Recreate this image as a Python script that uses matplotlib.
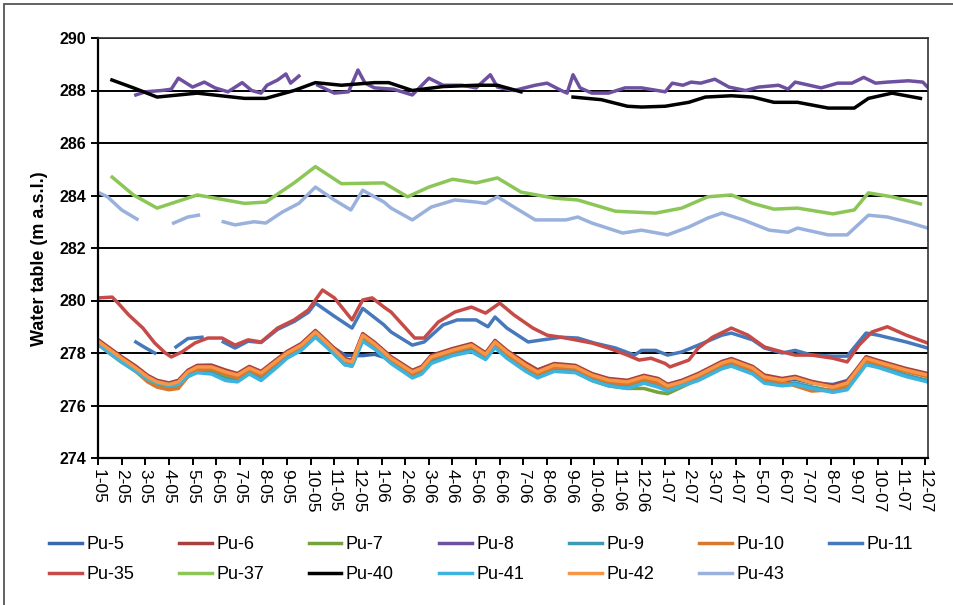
import numpy as np
import matplotlib
matplotlib.use('Agg')
import matplotlib.pyplot as plt
from matplotlib.patches import Rectangle

plt.rcParams['font.family'] = ['Liberation Sans', 'DejaVu Sans']
nan = np.nan

MONTH_LABELS = ['1-05', '2-05', '3-05', '4-05', '5-05', '6-05', '7-05', '8-05', '9-05', '10-05', '11-05', '12-05',
                '1-06', '2-06', '3-06', '4-06', '5-06', '6-06', '7-06', '8-06', '9-06', '10-06', '11-06', '12-06',
                '1-07', '2-07', '3-07', '4-07', '5-07', '6-07', '7-07', '8-07', '9-07', '10-07', '11-07', '12-07']

# ---- lower group (shared month positions) ----
LOW_X = [0.05, 0.4, 1.0, 1.6, 2.1, 2.5, 3.0, 3.4, 3.8, 4.2, 4.8, 5.4, 5.9, 6.4, 6.9, 7.5, 8.0, 8.6, 9.2, 9.7,
         10.45, 10.75, 11.2, 11.7, 12.4, 13.3, 13.7, 14.1, 15.0, 15.8, 16.4, 16.8, 17.3, 18.1, 18.6, 19.3, 20.2,
         20.9, 21.6, 22.4, 23.1, 23.7, 24.1, 24.7, 25.4, 26.4, 26.8, 27.7, 28.2, 28.95, 29.5, 30.2, 31.1, 31.7,
         32.5, 33.0, 34.2, 35.1]
PU5 = [278.40, 278.15, 277.75, 277.38, 277.05, 276.85, 276.78, 276.85, 277.20, 277.40,
       277.42, 277.22, 277.10, 277.38, 277.18, 277.60, 277.95, 278.25, 278.75, 278.35,
       277.92, 277.90, 277.90, 277.95, 277.75, 277.22, 277.38, 277.80, 278.05, 278.25,
       277.90, 278.38, 278.00, 277.50, 277.25, 277.50, 277.42, 277.12, 276.92, 276.85,
       277.05, 276.92, 276.72, 276.85, 277.12, 277.58, 277.68, 277.38, 277.05, 276.92,
       277.00, 276.85, 276.80, 276.95, 277.75, 277.62, 277.30, 277.12]
PU6 = [278.48, 278.25, 277.86, 277.50, 277.15, 276.96, 276.86, 276.96, 277.34, 277.53,
       277.54, 277.35, 277.22, 277.49, 277.30, 277.72, 278.06, 278.36, 278.86, 278.44,
       277.79, 277.72, 278.74, 278.41, 277.86, 277.34, 277.49, 277.91, 278.17, 278.36,
       278.01, 278.48, 278.10, 277.62, 277.36, 277.60, 277.53, 277.22, 277.03, 276.96,
       277.15, 277.03, 276.81, 276.96, 277.22, 277.68, 277.79, 277.49, 277.16, 277.03,
       277.11, 276.92, 276.76, 276.92, 277.86, 277.72, 277.41, 277.22]
PU7 = [278.30, 278.05, 277.65, 277.30, 276.95, 276.75, 276.65, 276.70, 277.10, 277.30,
       277.30, 277.10, 277.00, 277.30, 277.05, 277.50, 277.85, 278.15, 278.65, 278.25,
       277.55, 277.50, 278.50, 278.20, 277.65, 277.10, 277.25, 277.70, 277.95, 278.15,
       277.80, 278.25, 277.85, 277.35, 277.10, 277.35, 277.30, 276.95, 276.75, 276.65,
       276.65, 276.50, 276.45, 276.70, 277.00, 277.45, 277.55, 277.25, 276.90, 276.80,
       276.85, 276.70, 276.55, 276.70, 277.60, 277.50, 277.15, 276.95]
PU9 = [278.35, 278.10, 277.70, 277.35, 277.05, 276.90, 276.80, 276.85, 277.15, 277.30,
       277.25, 277.00, 276.95, 277.25, 277.00, 277.45, 277.85, 278.15, 278.65, 278.25,
       277.60, 277.55, 278.50, 278.20, 277.65, 277.10, 277.25, 277.65, 277.95, 278.10,
       277.80, 278.25, 277.85, 277.35, 277.10, 277.35, 277.30, 277.00, 276.80, 276.70,
       276.90, 276.75, 276.60, 276.80, 277.00, 277.45, 277.55, 277.25, 276.90, 276.80,
       276.85, 276.70, 276.55, 276.65, 277.60, 277.50, 277.15, 276.95]
PU10 = [278.35, 278.10, 277.70, 277.30, 276.90, 276.70, 276.60, 276.65, 277.10, 277.35,
        277.40, 277.20, 277.05, 277.35, 277.15, 277.60, 277.95, 278.25, 278.75, 278.30,
        277.65, 277.60, 278.60, 278.30, 277.75, 277.20, 277.35, 277.80, 278.05, 278.25,
        277.90, 278.35, 277.95, 277.45, 277.20, 277.45, 277.40, 277.10, 276.90, 276.80,
        277.00, 276.85, 276.65, 276.80, 277.10, 277.55, 277.65, 277.35, 277.00, 276.90,
        276.75, 276.55, 276.60, 276.75, 277.70, 277.60, 277.30, 277.10]
PU41 = [278.30, 278.05, 277.65, 277.30, 277.00, 276.85, 276.75, 276.80, 277.10, 277.25,
        277.20, 276.95, 276.90, 277.20, 276.95, 277.40, 277.80, 278.10, 278.60, 278.20,
        277.55, 277.50, 278.45, 278.15, 277.60, 277.05, 277.20, 277.60, 277.90, 278.05,
        277.75, 278.20, 277.80, 277.30, 277.05, 277.30, 277.25, 276.95, 276.75, 276.65,
        276.85, 276.70, 276.55, 276.75, 276.95, 277.40, 277.50, 277.20, 276.85, 276.75,
        276.80, 276.65, 276.50, 276.60, 277.55, 277.45, 277.10, 276.90]
PU42 = [278.42, 278.19, 277.80, 277.43, 277.09, 276.90, 276.80, 276.90, 277.28, 277.47,
        277.47, 277.28, 277.16, 277.43, 277.24, 277.66, 278.00, 278.30, 278.80, 278.38,
        277.73, 277.66, 278.68, 278.35, 277.80, 277.28, 277.43, 277.85, 278.11, 278.30,
        277.95, 278.42, 278.04, 277.54, 277.28, 277.54, 277.47, 277.16, 276.97, 276.90,
        277.09, 276.97, 276.75, 276.90, 277.16, 277.62, 277.73, 277.43, 277.09, 276.97,
        277.05, 276.86, 276.70, 276.86, 277.80, 277.66, 277.35, 277.16]

# ---- Pu-11 (upper blue, with gaps) ----
PU11_X = [1.6, 2.0, 2.4, 2.85, 3.3, 3.8, 4.4, 4.85, 5.3, 5.8, 6.35, 6.9, 7.6, 8.3, 8.9, 9.2, 10.0, 10.75, 11.2,
          12.1, 12.4, 13.3, 13.8, 14.6, 15.2, 16.0, 16.5, 16.8, 17.3, 18.2, 18.8, 19.6, 20.3, 21.0, 21.9, 22.7,
          23.0, 23.6, 24.1, 24.7, 25.4, 26.4, 26.8, 27.7, 28.2, 28.95, 29.5, 30.2, 31.1, 31.7, 32.5, 33.0, 34.2,
          35.1]
PU11 = [278.42, 278.20, 278.00, nan, 278.23, 278.55, 278.60, nan, 278.42, 278.19, 278.45, 278.40, 278.90,
        279.20, 279.55, 279.90, 279.40, 278.95, 279.70, 279.07, 278.80, 278.30, 278.42, 279.07, 279.26,
        279.26, 279.00, 279.37, 278.95, 278.42, 278.50, 278.60, 278.57, 278.38, 278.19, 277.92, 278.10,
        278.10, 277.92, 278.04, 278.30, 278.68, 278.76, 278.50, 278.19, 278.00, 278.10, 277.92, 277.88,
        277.88, 278.76, 278.68, 278.42, 278.19]

# ---- Pu-35 (upper red) ----
PU35_X = [0.05, 0.6, 0.85, 1.3, 1.9, 2.4, 2.85, 3.1, 3.55, 4.1, 4.65, 5.25, 5.8, 6.35, 6.9, 7.6, 8.3, 8.9, 9.5,
          10.0, 10.75, 11.2, 11.6, 12.1, 12.4, 13.4, 13.8, 14.4, 15.1, 15.8, 16.4, 17.0, 17.6, 18.4, 19.0, 19.6,
          20.2, 20.9, 21.6, 22.4, 22.9, 23.4, 24.0, 24.2, 25.0, 25.4, 26.0, 26.8, 27.5, 28.2, 28.95, 29.5, 30.2,
          31.1, 31.7, 32.2, 32.75, 33.4, 34.2, 35.1]
PU35 = [280.10, 280.13, 279.90, 279.45, 278.95, 278.38, 278.00, 277.85, 278.04, 278.38, 278.57, 278.57,
        278.30, 278.50, 278.42, 278.95, 279.26, 279.64, 280.40, 280.10, 279.26, 280.02, 280.10, 279.75,
        279.56, 278.57, 278.57, 279.18, 279.56, 279.75, 279.52, 279.90, 279.45, 278.95, 278.68, 278.60,
        278.50, 278.38, 278.19, 277.92, 277.73, 277.80, 277.60, 277.47, 277.73, 278.19, 278.60, 278.95,
        278.68, 278.23, 278.04, 277.92, 277.92, 277.80, 277.66, 278.30, 278.80, 279.00, 278.68, 278.38]

# ---- Pu-8 (purple) ----
PU8_X = [1.6, 2.0, 2.7, 3.1, 3.4, 4.0, 4.5, 4.95, 5.5, 6.1, 6.5, 6.9, 7.15, 7.6, 7.95, 8.15, 8.5, 8.9, 9.3,
         10.0, 10.6, 11.0, 11.3, 11.7, 12.5, 13.3, 14.0, 14.6, 15.4, 16.0, 16.6, 16.9, 17.6, 18.5, 19.0, 19.6,
         19.85, 20.1, 20.4, 20.9, 21.6, 22.3, 23.0, 24.0, 24.3, 24.75, 25.1, 25.5, 26.1, 26.7, 27.4, 27.95,
         28.8, 29.2, 29.5, 30.1, 30.6, 31.3, 31.9, 32.4, 32.9, 33.4, 34.3, 34.9, 35.1]
PU8 = [287.83, 287.95, 288.00, 288.05, 288.47, 288.13, 288.32, 288.10, 287.95, 288.30, 288.00, 287.90,
       288.20, 288.40, 288.63, 288.28, 288.55, nan, 288.20, 287.90, 287.95, 288.78, 288.28, 288.10, 288.05,
       287.83, 288.47, 288.20, 288.20, 288.10, 288.60, 288.13, 288.00, 288.20, 288.28, 288.00, 287.90,
       288.60, 288.10, 287.90, 287.90, 288.10, 288.10, 287.95, 288.28, 288.20, 288.32, 288.28, 288.43,
       288.13, 288.00, 288.13, 288.20, 288.05, 288.32, 288.20, 288.10, 288.28, 288.28, 288.50, 288.28,
       288.32, 288.37, 288.32, 288.13]

# ---- Pu-37 (light green) ----
PU37_X = [0.6, 1.5, 2.5, 4.2, 6.2, 7.1, 8.3, 9.2, 10.3, 12.1, 13.1, 14.0, 15.0, 16.0, 16.9, 17.9, 19.3, 20.3,
          21.9, 23.6, 24.7, 25.8, 26.8, 27.7, 28.6, 29.6, 31.1, 32.0, 32.6, 33.6, 34.8]
PU37 = [284.70, 284.02, 283.52, 284.02, 283.70, 283.75, 284.48, 285.10, 284.45, 284.48, 283.95, 284.32,
        284.62, 284.48, 284.67, 284.13, 283.90, 283.83, 283.40, 283.33, 283.52, 283.95, 284.02, 283.70,
        283.48, 283.52, 283.30, 283.45, 284.10, 283.95, 283.68]

# ---- Pu-40 (black) ----
PU40_X = [0.59, 1.5, 2.5, 4.2, 6.2, 7.1, 8.3, 9.2, 10.3, 11.7, 12.3, 13.3, 14.6, 16.0, 16.9, 17.9, 19.0, 20.1,
          21.3, 22.4, 23.0, 24.0, 25.0, 25.7, 26.8, 27.7, 28.6, 29.6, 30.9, 32.0, 32.6, 33.6, 34.8]
PU40 = [288.40, 288.10, 287.75, 287.90, 287.70, 287.70, 288.00, 288.30, 288.20, 288.30, 288.30, 288.00,
        288.15, 288.20, 288.20, 287.95, nan, 287.75, 287.65, 287.40, 287.37, 287.40, 287.55, 287.75, 287.80,
        287.75, 287.55, 287.55, 287.33, 287.33, 287.70, 287.90, 287.70]

# ---- Pu-43 (light blue, gaps) ----
PU43_X = [0.05, 0.4, 1.0, 1.65, 2.4, 3.2, 3.8, 4.25, 4.8, 5.3, 5.8, 6.6, 7.1, 7.8, 8.5, 9.2, 10.0, 10.7, 11.2,
          12.1, 12.4, 13.3, 14.1, 15.1, 16.0, 16.4, 16.9, 17.6, 18.5, 19.8, 20.3, 20.9, 22.2, 23.0, 24.1, 25.0,
          25.8, 26.4, 27.3, 28.4, 29.2, 29.6, 30.9, 31.7, 32.6, 33.4, 34.4, 35.1]
PU43 = [284.10, 283.95, 283.45, 283.10, nan, 282.95, 283.18, 283.25, nan, 283.00, 282.88, 283.00, 282.95,
        283.37, 283.70, 284.32, 283.83, 283.45, 284.20, 283.75, 283.52, 283.07, 283.56, 283.83, 283.75,
        283.70, 283.95, 283.56, 283.07, 283.07, 283.18, 282.95, 282.57, 282.68, 282.50, 282.80, 283.14,
        283.33, 283.07, 282.68, 282.60, 282.76, 282.50, 282.50, 283.25, 283.18, 282.95, 282.76]

SERIES = [
    ('Pu-5', LOW_X, PU5, '#3B68AC'),
    ('Pu-6', LOW_X, PU6, '#A8403C'),
    ('Pu-7', LOW_X, PU7, '#76A23C'),
    ('Pu-8', PU8_X, PU8, '#6E50A0'),
    ('Pu-9', LOW_X, PU9, '#3C9AB6'),
    ('Pu-10', LOW_X, PU10, '#D9782C'),
    ('Pu-11', PU11_X, PU11, '#4678BC'),
    ('Pu-35', PU35_X, PU35, '#C64B48'),
    ('Pu-37', PU37_X, PU37, '#8CC657'),
    ('Pu-40', PU40_X, PU40, '#000000'),
    ('Pu-41', LOW_X, PU41, '#3DB3DE'),
    ('Pu-42', LOW_X, PU42, '#F79646'),
    ('Pu-43', PU43_X, PU43, '#99B1DC'),
]

fig = plt.figure(figsize=(9.54, 6.05), dpi=100)
ax = fig.add_axes([98 / 954, 1 - 458 / 605, 830 / 954, 420 / 605])

for name, xs, ys, col in SERIES:
    ax.plot(xs, ys, color=col, lw=2.5, label=name, solid_joinstyle='round')

ax.set_ylim(274, 290)
ax.set_yticks(np.arange(274, 291, 2))
ax.set_xlim(0, 35.12)
ax.set_xticks(np.arange(len(MONTH_LABELS)))
ax.set_xticklabels(MONTH_LABELS, rotation=270, fontsize=12.5, ha='center', va='top')
for lab in ax.get_yticklabels():
    lab.set_fontweight('bold')
    lab.set_fontsize(11.5)

ax.grid(axis='y', color='black', lw=1.4)
ax.set_axisbelow(True)
for s in ['left', 'bottom']:
    ax.spines[s].set_color('black')
    ax.spines[s].set_linewidth(1.6)
for s in ['top', 'right']:
    ax.spines[s].set_color('#333333')
    ax.spines[s].set_linewidth(1.2)
ax.tick_params(axis='both', direction='out', length=5, width=1.4, color='black')
ax.tick_params(axis='x', pad=3)

ax.set_ylabel('Water table (m a.s.l.)', fontsize=13, fontweight='bold')
ax.yaxis.set_label_coords(-0.060, 0.474)

# legend laid out row by row (matplotlib fills columns first)
handles, labels = ax.get_legend_handles_labels()
order = [0, 7, 1, 8, 2, 9, 3, 10, 4, 11, 5, 12, 6]
fig.legend([handles[i] for i in order], [labels[i] for i in order], ncol=7, loc='upper left',
           bbox_to_anchor=(49 / 954, 1 - 536 / 605),
           frameon=False, fontsize=13, handlelength=1.8, handletextpad=0.25, columnspacing=2.5,
           labelspacing=0.72, borderpad=0, borderaxespad=0)

fig.add_artist(Rectangle((4 / 954, -0.05), 1.2, 1 - 4 / 605 + 0.05, transform=fig.transFigure,
                         fill=False, edgecolor='#555555', lw=1.3))

fig.savefig('out.png', dpi=100)
